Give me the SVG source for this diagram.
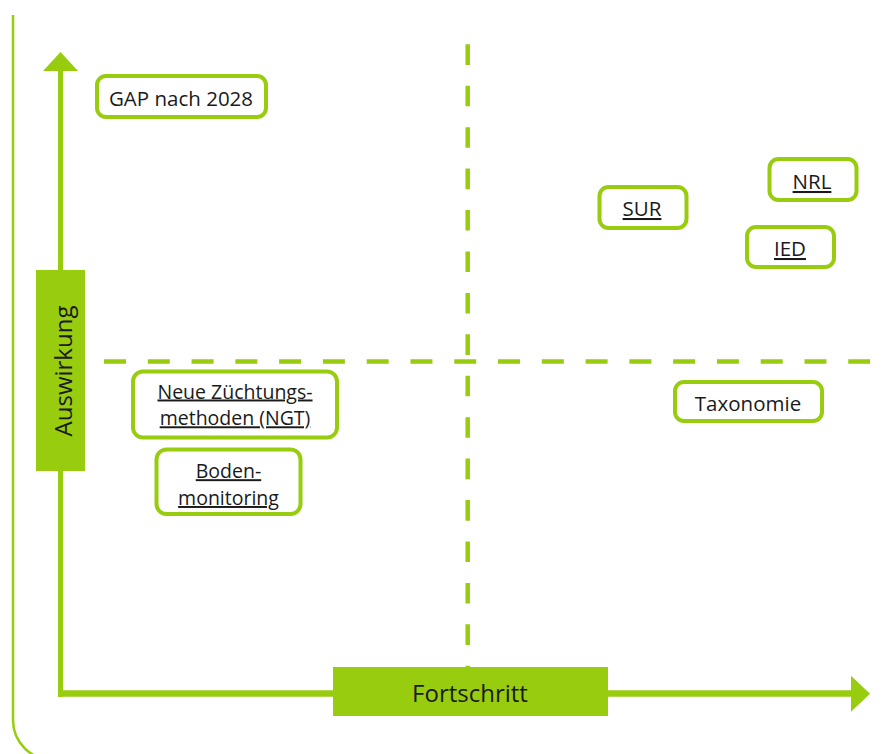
<svg xmlns="http://www.w3.org/2000/svg" width="890" height="754" viewBox="0 0 890 754">
  <style>
    .box { fill: #ffffff; stroke: #98cc0f; stroke-width: 4; }
    .lbl { fill: #98cc0f; stroke: none; }
    .t { font-family: "Open Sans", "Noto Sans", "Liberation Sans", sans-serif; font-size: 20.5px; fill: #1a1a1a; text-anchor: middle; }
    .t2 { font-size: 19.5px; }
    .u { text-decoration: underline; }
    .ax { font-family: "Open Sans", "Noto Sans", "Liberation Sans", sans-serif; font-size: 24px; fill: #1a1a1a; text-anchor: middle; }
    .dash { stroke: #98cc0f; stroke-width: 4.5; fill: none; }
    .axis { stroke: #98cc0f; fill: none; }
    .head { fill: #98cc0f; }
  </style>
  <rect width="890" height="754" fill="#ffffff"/>
  <g id="frame">
    <path d="M13,15 V720 A40,40 0 0 0 53,760" fill="none" stroke="#98cc0f" stroke-width="2.5"/>
  </g>
  <g id="connectors">
    <line class="dash" x1="104" y1="361.5" x2="870" y2="361.5" stroke-dasharray="22 21.78"/>
    <line class="dash" x1="467.7" y1="44.3" x2="467.7" y2="667" stroke-dasharray="20.6 20.83"/>
    <line class="axis" x1="60.5" y1="70" x2="60.5" y2="697" stroke-width="5"/>
    <line class="axis" x1="58" y1="693.5" x2="852" y2="693.5" stroke-width="6.5"/>
    <polygon class="head" points="60.5,52 43,71 78,71"/>
    <polygon class="head" points="870,693.7 851,675.7 851,711.7"/>
  </g>
  <g id="axis-y">
    <rect class="lbl" x="36" y="270" width="49" height="201"/>
    <text class="ax" transform="translate(71.5,371) rotate(-90)" x="0" y="0">Auswirkung</text>
  </g>
  <g id="axis-x">
    <rect class="lbl" x="333" y="667" width="275" height="49"/>
    <text class="ax" x="470" y="701.5">Fortschritt</text>
  </g>
  <g id="gap">
    <rect class="box" x="97" y="76" width="169" height="41" rx="9"/>
    <text class="t" x="181" y="106">GAP nach 2028</text>
  </g>
  <g id="sur">
    <rect class="box" x="599.5" y="187" width="87" height="41" rx="9"/>
    <text class="t u" x="642" y="216">SUR</text>
  </g>
  <g id="nrl">
    <rect class="box" x="769.5" y="159" width="87" height="41" rx="9"/>
    <text class="t u" x="812" y="189">NRL</text>
  </g>
  <g id="ied">
    <rect class="box" x="747" y="227" width="87" height="40" rx="9"/>
    <text class="t u" x="790" y="256">IED</text>
  </g>
  <g id="taxonomie">
    <rect class="box" x="675" y="382" width="147" height="39" rx="9"/>
    <text class="t" x="748" y="411">Taxonomie</text>
  </g>
  <g id="ngt">
    <rect class="box" x="133" y="371.5" width="204" height="66" rx="10"/>
    <text class="t t2 u" x="235" y="398.5">Neue Züchtungs-</text>
    <text class="t t2 u" x="235" y="425.3">methoden (NGT)</text>
  </g>
  <g id="boden">
    <rect class="box" x="156.5" y="449.5" width="144" height="64.5" rx="10"/>
    <text class="t t2 u" x="228.5" y="478.2">Boden-</text>
    <text class="t t2 u" x="228.5" y="505">monitoring</text>
  </g>
</svg>
